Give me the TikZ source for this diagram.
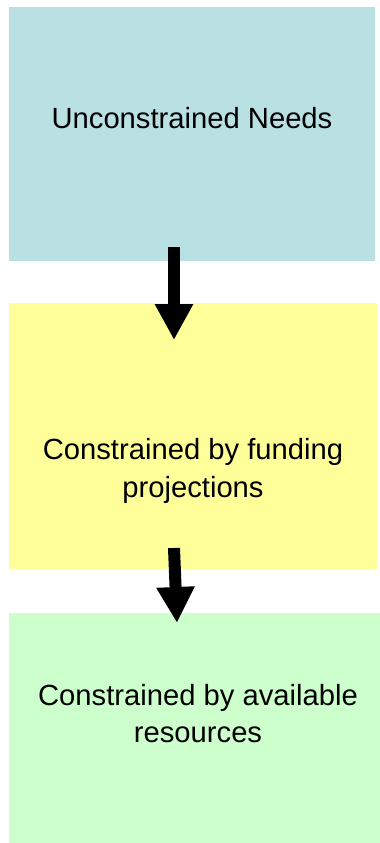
\documentclass[tikz,border=0pt]{standalone}
\usepackage{fontspec}
\setmainfont{Liberation Sans}
\usetikzlibrary{arrows.meta}
\definecolor{boxblue}{RGB}{185,224,227}
\definecolor{boxyellow}{RGB}{255,255,153}
\definecolor{boxgreen}{RGB}{204,255,204}
\begin{document}
\begin{tikzpicture}[x=1pt,y=-1pt,
  box/.style={draw=none,inner sep=0pt,outer sep=0pt},
  lbl/.style={font=\fontsize{29.2}{37.2}\selectfont,align=center,inner sep=0pt},
  bigarrow/.style={line width=12pt,-{Triangle[width=36pt,length=36pt]}}]
\useasboundingbox (0,0) rectangle (380,843);
\node[box,fill=boxblue,minimum width=366pt,minimum height=254pt] (b1) at (192,134) {};
\node[box,fill=boxyellow,minimum width=368pt,minimum height=266pt] (b2) at (193,436) {};
\node[box,fill=boxgreen,minimum width=371pt,minimum height=230pt] (b3) at (194.5,728) {};
\node[lbl,anchor=base] (t1) at (192,128) {Unconstrained Needs};
\node[lbl,anchor=base] (t2) at (193,497) {Constrained by funding\\projections};
\node[lbl,anchor=base] (t3) at (198,742.5) {Constrained by available\\resources};
\coordinate (a1s) at (174,247);
\coordinate (a1e) at (174,340);
\coordinate (a2s) at (174,548);
\coordinate (a2e) at (177,623);
\draw[bigarrow] (a1s) -- (a1e);
\draw[bigarrow] (a2s) -- (a2e);
\end{tikzpicture}
\end{document}
